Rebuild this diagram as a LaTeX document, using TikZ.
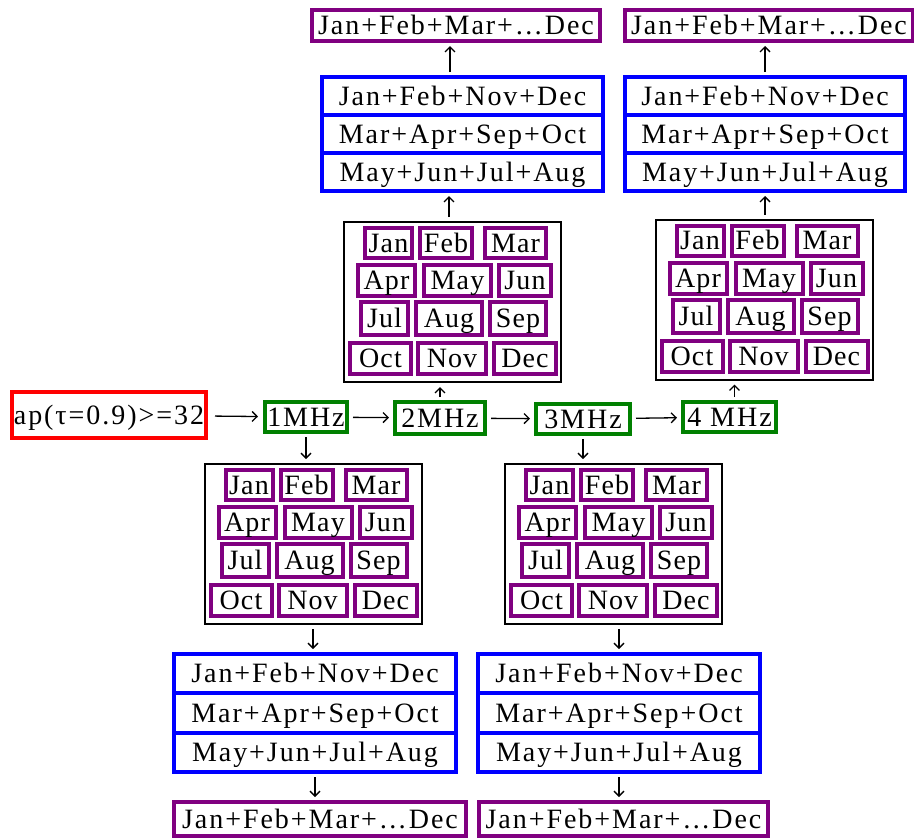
\documentclass[tikz,border=0pt]{standalone}
\usepackage{fontspec}
\setmainfont{Liberation Serif}[LetterSpace=7]
\newfontfamily\monthfont{Liberation Serif}[LetterSpace=4]
\usetikzlibrary{arrows.meta}
\definecolor{cred}{RGB}{255,0,0}
\definecolor{cgreen}{RGB}{0,128,0}
\definecolor{cblue}{RGB}{0,0,255}
\definecolor{cpurple}{RGB}{128,0,128}
\newcommand\mgrid[3]{%
  \node[gridbox] (#1) at (#2,#3) {};
  \foreach \m/\dx/\dy/\w/\h in {Jan/-64/-59/51/34, Feb/-6.5/-59/56/34, Mar/63/-59/65/34,
      Apr/-66/-21.5/61/35, May/5/-21.5/71/35, Jun/72.5/-21.5/56/35,
      Jul/-68/16.5/51/37, Aug/-3.5/16.5/70/37, Sep/65.5/16.5/60/37,
      Oct/-72/56.5/65/35, Nov/-0.5/56.5/72/35, Dec/72.5/56.5/66/35}
    {\node[mbox, minimum width={\w-4}, minimum height={\h-4}] (#1-\m) at ([shift={(\dx,\dy)}]#1.center) {\m};}
}
\newcommand\bstack[5]{%
  \node[bbox, minimum width=#4, minimum height=#5] (#1-1) at (#2,{#3+0.5*#5}) {Jan+Feb+Nov+Dec};
  \node[bbox, minimum width=#4, minimum height=#5] (#1-2) at (#2,{#3+1.5*#5}) {Mar+Apr+Sep+Oct};
  \node[bbox, minimum width=#4, minimum height=#5] (#1-3) at (#2,{#3+2.5*#5}) {May+Jun+Jul+Aug};
}
\begin{document}
\begin{tikzpicture}[x=1pt,y=-1pt,
  base/.style={rectangle, inner sep=0pt, outer sep=0pt, line width=4pt,
    font=\fontsize{28}{30}\selectfont, text height=20pt, text depth=2pt},
  redbox/.style={base, draw=cred, line width=4.5pt},
  greenbox/.style={base, draw=cgreen},
  bbox/.style={base, draw=cblue},
  pbox/.style={base, draw=cpurple},
  gridbox/.style={rectangle, draw=black, line width=2pt, inner sep=0pt, outer sep=0pt,
    minimum width=217, minimum height=160},
  mbox/.style={rectangle, draw=cpurple, line width=4pt, inner sep=0pt, outer sep=0pt,
    font=\monthfont\fontsize{28}{30}\selectfont, text height=20pt, text depth=2pt},
  conn/.style={-{Straight Barb[length=5pt,width=10pt]}, line width=1.3pt},
  hconn/.style={conn, shorten <=6pt, shorten >=6pt},
  vconn/.style={conn, shorten <=5pt, shorten >=5pt}]
\useasboundingbox (0,0) rectangle (914,839);

% main row
\node[redbox, minimum width=194, minimum height=46] (r) at (109,415) {ap(τ=0.9)>=32};
\node[greenbox, minimum width=82, minimum height=30] (f1) at (306,417) {1MHz};
\node[greenbox, minimum width=90, minimum height=32] (f2) at (440,418) {2MHz};
\node[greenbox, minimum width=94, minimum height=30] (f3) at (583,419) {3MHz};
\node[greenbox, minimum width=93, minimum height=30] (f4) at (729.5,417) {4 MHz};

% grids
\mgrid{g1}{452.5}{302}
\mgrid{g2}{764}{299.5}
\mgrid{g3}{313}{544}
\mgrid{g4}{613.5}{544}

% blue stacks
\bstack{b1}{462.5}{77}{281}{38}
\bstack{b2}{765}{77}{280}{38}
\bstack{b3}{315}{654}{282}{39.33}
\bstack{b4}{619}{654}{282}{39.33}

% purple sums
\node[pbox, minimum width=288, minimum height=31] (p1) at (456,25.5) {Jan+Feb+Mar+…Dec};
\node[pbox, minimum width=288, minimum height=31] (p2) at (769,25.5) {Jan+Feb+Mar+…Dec};
\node[pbox, minimum width=292, minimum height=34] (p3) at (320,819) {Jan+Feb+Mar+…Dec};
\node[pbox, minimum width=289, minimum height=34] (p4) at (623.5,819) {Jan+Feb+Mar+…Dec};

% horizontal connectors
\draw[hconn, shorten <=9pt, shorten >=7pt] (r) -- (f1);
\draw[hconn] (f1) -- (f2);
\draw[hconn] (f2) -- (f3);
\draw[hconn] (f3) -- (f4);

% upper branches
\draw[vconn] (f2.north) -- (f2.north |- g1.south);
\draw[vconn] ([xshift=-3.5]g1.north) -- ([xshift=-3.5]g1.north |- b1-3.south);
\draw[vconn] ([xshift=-12.5]b1-1.north) -- ([xshift=-12.5]b1-1.north |- p1.south);
\draw[vconn] ([xshift=5]f4.north) -- ([xshift=5]f4.north |- g2.south);
\draw[vconn] (g2.north -| b2-3.south) -- (b2-3.south);
\draw[vconn] (b2-1.north) -- (b2-1.north |- p2.south);

% lower branches
\draw[vconn] (f1.south) -- (f1.south |- g3.north);
\draw[vconn] (g3.south) -- (g3.south |- b3-1.north);
\draw[vconn] (b3-3.south) -- (b3-3.south |- p3.north);
\draw[vconn] (f3.south) -- (f3.south |- g4.north);
\draw[vconn] (g4.south -| b4-1.north) -- (b4-1.north);
\draw[vconn] (b4-3.south) -- (b4-3.south |- p4.north);
\end{tikzpicture}
\end{document}
